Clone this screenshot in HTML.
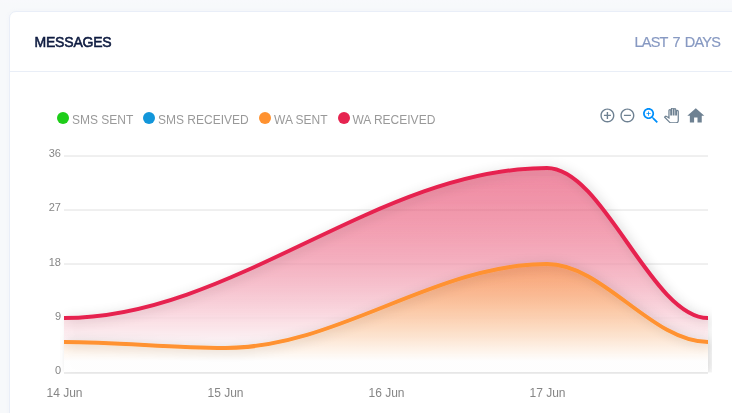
<!DOCTYPE html>
<html><head><meta charset="utf-8"><title>Messages</title>
<style>
html,body{margin:0;padding:0}
body{width:732px;height:413px;overflow:hidden;background:#f7f9fb;position:relative;font-family:"Liberation Sans",Arial,sans-serif}
.topband{position:absolute;left:0;top:0;width:732px;height:5px;background:linear-gradient(#f8f9fc,#f7f9fb)}
.card{position:absolute;left:9px;top:11px;width:760px;height:440px;background:#fff;border:1px solid #e9eef8;border-radius:7px;box-shadow:0 0 4px rgba(205,214,232,.14);box-sizing:border-box}
.hdr{position:absolute;left:0;top:0;right:0;height:59px;border-bottom:1px solid #e9eef7}
.title{position:absolute;left:24.5px;top:22px;font-size:14px;line-height:16px;font-weight:normal;-webkit-text-stroke:0.55px #0e1b40;color:#0e1b40;letter-spacing:-0.2px;white-space:nowrap}
.range{position:absolute;left:624.5px;top:21.6px;font-size:14.5px;line-height:16px;color:#8799c2;letter-spacing:-0.8px;word-spacing:1.9px;-webkit-text-stroke:0.2px #8799c2;white-space:nowrap}
svg.chart{position:absolute;left:0;top:0}
.lg{position:absolute;top:111px;height:14px;font-size:12px;line-height:14px;color:#999;white-space:nowrap}
.lg i{position:absolute;left:0;top:1px;width:12px;height:12px;border-radius:50%}
.lg span{position:absolute;left:15px;top:2px}
.ico{position:absolute;overflow:hidden}
</style></head><body>
<div class="topband"></div>
<div class="card">
 <div class="hdr"><div class="title">MESSAGES</div><div class="range">LAST 7 DAYS</div></div>
</div>
<div class="lg" style="left:57px"><i style="background:#1ecd19"></i><span>SMS SENT</span></div>
<div class="lg" style="left:143px"><i style="background:#1296da"></i><span>SMS RECEIVED</span></div>
<div class="lg" style="left:259px"><i style="background:#ff9230"></i><span>WA SENT</span></div>
<div class="lg" style="left:338px"><i style="background:#e62450"></i><span style="left:14.4px">WA RECEIVED</span></div>


<svg class="chart" width="732" height="413" viewBox="0 0 732 413" font-family="Liberation Sans, Arial, sans-serif" font-size="11" fill="#868686">
<defs>
<linearGradient id="gr" x1="0" y1="0" x2="0" y2="1"><stop offset="0" stop-color="#e62450" stop-opacity=".5"/><stop offset=".9" stop-color="#ffffff" stop-opacity=".9"/></linearGradient>
<linearGradient id="go" x1="0" y1="0" x2="0" y2="1"><stop offset="0" stop-color="#ff9230" stop-opacity=".5"/><stop offset=".9" stop-color="#ffffff" stop-opacity=".9"/></linearGradient>
<filter id="sh" filterUnits="userSpaceOnUse" x="30" y="130" width="720" height="270"><feGaussianBlur in="SourceAlpha" stdDeviation="6"/><feOffset dx="2.5" dy="0.5"/><feComponentTransfer><feFuncA type="linear" slope="0.18"/></feComponentTransfer><feMerge><feMergeNode/><feMergeNode in="SourceGraphic"/></feMerge></filter>
<filter id="sha" filterUnits="userSpaceOnUse" x="30" y="130" width="720" height="270"><feGaussianBlur in="SourceAlpha" stdDeviation="4.5"/><feOffset dx="3" dy="1"/><feComponentTransfer><feFuncA type="linear" slope="0.09"/></feComponentTransfer><feMerge><feMergeNode/><feMergeNode in="SourceGraphic"/></feMerge></filter>
<clipPath id="cp"><rect x="60" y="150" width="652" height="222.4"/></clipPath>
</defs>
<line x1="64.0" x2="708.0" y1="156.00" y2="156.00" stroke="#e0e0e0" stroke-width="1"/>
<line x1="64.0" x2="708.0" y1="210.00" y2="210.00" stroke="#e0e0e0" stroke-width="1"/>
<line x1="64.0" x2="708.0" y1="264.00" y2="264.00" stroke="#e0e0e0" stroke-width="1"/>
<line x1="64.0" x2="708.0" y1="318.00" y2="318.00" stroke="#e0e0e0" stroke-width="1"/>

<g clip-path="url(#cp)">
<path d="M64.00 318.00 C233.05 318.00 377.95 168.00 547.00 168.00 C603.35 168.00 651.65 318.00 708.00 318.00 L708.00 372.00 L64.00 372.00 Z" fill="url(#gr)" filter="url(#sha)"/>
<path d="M64.00 318.00 C233.05 318.00 377.95 168.00 547.00 168.00 C603.35 168.00 651.65 318.00 708.00 318.00" fill="none" stroke="#e62450" stroke-width="4" filter="url(#sh)"/>
<path d="M64.00 342.00 C120.35 342.00 168.65 348.00 225.00 348.00 C337.70 348.00 434.30 264.00 547.00 264.00 C603.35 264.00 651.65 342.00 708.00 342.00 L708.00 372.00 L64.00 372.00 Z" fill="url(#go)" filter="url(#sha)"/>
<path d="M64.00 342.00 C120.35 342.00 168.65 348.00 225.00 348.00 C337.70 348.00 434.30 264.00 547.00 264.00 C603.35 264.00 651.65 342.00 708.00 342.00" fill="none" stroke="#ff9230" stroke-width="4" filter="url(#sh)"/>
</g>
<line x1="64.0" x2="708.0" y1="373" y2="373" stroke="#dadada"/>
<svg x="599" y="107" width="16.8" height="16.8" viewBox="0 0 24 24" fill="#6e8192"><path d="M13 7h-2v4H7v2h4v4h2v-4h4v-2h-4V7zm-1-5C6.48 2 2 6.48 2 12s4.480 10 10 10 10-4.480 10-10S17.520 2 12 2zm0 18c-4.410 0-8-3.590-8-8s3.590-8 8-8 8 3.590 8 8-3.590 8-8 8z"/></svg>
<svg x="619" y="107" width="16.8" height="16.8" viewBox="0 0 24 24" fill="#6e8192"><path d="M7 11v2h10v-2H7zm5-9C6.48 2 2 6.48 2 12s4.480 10 10 10 10-4.480 10-10S17.520 2 12 2zm0 18c-4.410 0-8-3.590-8-8s3.590-8 8-8 8 3.590 8 8-3.590 8-8 8z"/></svg>
<svg x="640.5" y="105.5" width="20.4" height="20.4" viewBox="0 0 24 24" fill="#008ffb"><path d="M15.5 14h-.79l-.28-.27C15.41 12.59 16 11.11 16 9.5 16 5.91 13.09 3 9.500 3S3 5.910 3 9.500 5.910 16 9.500 16c1.610 0 3.090-.59 4.230-1.570l.27.28v.79l5 4.990L20.490 19l-4.990-5zm-6 0C7.010 14 5 11.990 5 9.500S7.010 5 9.500 5 14 7.010 14 9.500 11.990 14 9.500 14z"/><path d="M12 10h-2v2H9v-2H7V9h2V7h1v2h2v1z"/></svg>
<svg x="664" y="108" width="14.88" height="14.88" viewBox="0 0 24 24" fill="#fff" stroke="#6e8192" stroke-width="2"><path d="M23 5.500V20c0 2.200-1.800 4-4 4h-7.300c-1.080 0-2.100-.430-2.850-1.190L1 14.830s1.260-1.230 1.300-1.250c.22-.19.490-.29.790-.29.220 0 .42.060.6.160.4.010 4.310 2.460 4.310 2.460V4c0-.83.670-1.500 1.500-1.500S11 3.170 11 4v7h1V1.500c0-.83.670-1.500 1.500-1.500S15 .67 15 1.500V11h1V2.500c0-.83.670-1.500 1.500-1.500s1.500.67 1.500 1.500V11h1V5.500c0-.83.670-1.500 1.500-1.500s1.500.67 1.500 1.500z"/></svg>
<svg x="685.6" y="105.6" width="20.4" height="20.4" viewBox="0 0 24 24" fill="#6e8192"><path d="M10 20v-6h4v6h5v-8h3L12 3 2 12h3v8z"/></svg>
<g><text x="61" y="157.10" text-anchor="end">36</text>
<text x="61" y="211.30" text-anchor="end">27</text>
<text x="61" y="265.50" text-anchor="end">18</text>
<text x="61" y="319.70" text-anchor="end">9</text>
<text x="61" y="373.90" text-anchor="end">0</text>
</g>
<g><text x="64.5" y="397" text-anchor="middle" font-size="12">14 Jun</text>
<text x="225.5" y="397" text-anchor="middle" font-size="12">15 Jun</text>
<text x="386.5" y="397" text-anchor="middle" font-size="12">16 Jun</text>
<text x="547.5" y="397" text-anchor="middle" font-size="12">17 Jun</text>
</g>
</svg>
</body></html>
